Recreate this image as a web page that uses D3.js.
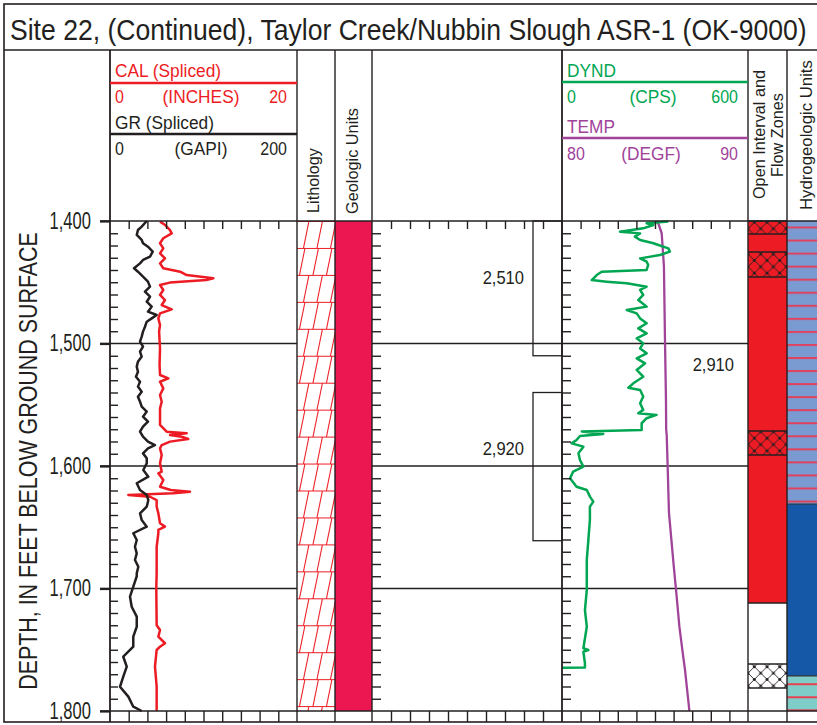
<!DOCTYPE html>
<html><head><meta charset="utf-8">
<script src="https://cdn.jsdelivr.net/npm/d3@7"></script>
<style>
html,body{margin:0;padding:0;background:#fff;}
svg{display:block;}
</style></head>
<body>
<svg id="chart" width="817" height="725"></svg>
<script>
// ---------------- DATA ----------------
const titleText = "Site 22, (Continued), Taylor Creek/Nubbin Slough ASR-1 (OK-9000)";
const yAxisTitle = "DEPTH, IN FEET BELOW GROUND SURFACE";
const depthTicks = [1400, 1500, 1600, 1700, 1800];

const grDepth = [1400,1404.6,1407.3,1411.4,1415.5,1418.2,1421,1425,1429.1,1431.8,1434.6,1438.6,1441.4,1445.4,1449.5,1453.6,1457.7,1461.8,1465.9,1469.9,1474,1476.7,1479.5,1482.2,1486.3,1490.3,1494.4,1498.5,1502.6,1506.7,1510.7,1514.8,1518.9,1523,1527.1,1531.2,1535.2,1539.3,1543.4,1547.5,1551.6,1555.6,1559.7,1563.8,1567.9,1572,1576.1,1580.1,1582.9,1585.6,1589.7,1593.7,1597.8,1603.3,1608.7,1614.1,1619.6,1623.7,1627.8,1633.2,1638.6,1644.1,1649.5,1654.9,1660.4,1665.9,1671.3,1676.7,1682.2,1687.6,1690,1698.5,1706.7,1714.9,1723,1731.2,1739.3,1747.5,1755.7,1763.8,1772,1780.2,1788.3,1796.5,1800];
const grValue = [39.3,33.9,29.9,28.6,33.9,35.3,40.6,45.7,42.8,35.3,32.1,25.7,29.9,35.3,40.6,42.8,37.4,42.8,39.3,44.6,40.6,49.9,44.6,39.3,37.4,35.3,33.9,32.1,35.3,32.1,33.9,29.9,28.6,29.9,27.8,32.1,29.9,33.9,29.9,32.1,33.9,39.3,35.3,40.6,35.3,32.1,35.3,40.6,48.1,40.6,35.3,39.3,39.3,35.6,41,28.6,32.1,39.3,41,39.3,32.1,33.9,39.3,24.9,28.6,26.7,28.6,26.7,30.3,28.6,28.6,24.9,21.4,23.2,28.6,28.6,24.9,24.9,14.2,17.9,14.2,10.7,19.6,24.9,33.9];

const calDepth = [1400.5,1403.3,1407.3,1410.1,1414.1,1418.2,1422.3,1426.4,1430.5,1434.6,1438.6,1441.4,1444.1,1446.8,1448.2,1450.3,1452.2,1456.3,1460.4,1464.5,1468.6,1472.1,1475.4,1479.5,1484.9,1490.3,1503.9,1517.6,1525.7,1528.4,1531.2,1536.6,1542,1547.5,1552.9,1566.5,1572,1573.3,1574.7,1576.1,1578,1580.1,1582.9,1585.6,1591,1597.8,1604.6,1606,1611.4,1616.9,1619.6,1621,1622.3,1623.7,1625.1,1627.8,1633.2,1638.6,1646.8,1649.5,1652.2,1654.9,1665.9,1687.6,1700,1730,1733.9,1739.3,1744.7,1747.5,1750.2,1763.8,1780,1800];
const calValue = [5.35,5.9,6.4,6.6,5.7,5.35,5.7,5.35,5.88,5.35,5.7,7.5,8.2,11.05,10.3,6.4,5.35,5.7,5.35,5.88,5.53,6.6,5.35,5.17,5.35,5.25,5.35,5.3,5.35,6.24,5.35,5.7,5.35,5.53,5.35,5.35,6.06,8.2,6.42,7.67,8.37,6.42,5.53,5.35,5.53,5.35,5.53,5.17,5.7,5.35,6.5,8.56,6.77,1.96,4.28,4.99,4.99,5.17,5.35,5.88,5.17,5.17,4.99,4.99,4.95,4.99,5.35,5.17,5.88,5.35,4.99,4.81,4.99,4.99];

const dyndDepth = [1400.5,1401.9,1403.3,1406,1408.7,1410.1,1412.8,1415.5,1418.2,1419.6,1422.3,1425,1427.8,1430.5,1433.2,1435.9,1440,1441.4,1444.1,1448.2,1449.5,1450.9,1453.6,1456.3,1460.4,1464.5,1469.9,1472.7,1475.4,1479.5,1483.5,1487.6,1491.7,1495.8,1499.9,1504,1508,1512.1,1516.2,1521.6,1527.1,1532.5,1536.1,1537.9,1543.3,1548.8,1554.2,1557,1558.3,1561,1565.1,1570.6,1571.9,1573.8,1575.5,1578.8,1581.5,1584.2,1589.6,1595.1,1600.5,1604.6,1610,1616.9,1619.6,1625,1629.1,1633.2,1644.1,1660.4,1676.7,1690.3,1701.2,1717.6,1731.2,1748.8,1750.2,1751.6,1761.1,1764.4,1764.6];
const dyndValue = [343,273,295,262,187,252,235,252,295,311,343,348,316,252,273,278,273,128,112,96,144,209,273,252,262,246,273,209,241,252,273,246,273,241,262,252,273,241,268,241,262,230,214,252,262,252,262,246,305,273,257,257,64,133,58,47,31,69,53,58,69,36,26,47,80,90,101,90,90,85,80,80,80,74,80,69,85,69,74,74,0];

const tempDepth = [1400,1403,1410,1437,1500,1546,1570,1575,1600,1638,1677,1690,1701,1731,1756,1766,1800];
const tempValue = [85.12,85.2,85.36,85.48,85.54,85.59,85.6,85.63,85.68,85.75,85.98,86.06,86.13,86.31,86.52,86.61,86.85];

// open interval / flow zones
const openIntervalTop = 1400, openIntervalBottom = 1711.8;
const flowZoneTops    = [1400, 1425.3, 1571.4, 1761.6];
const flowZoneBottoms = [1410.6, 1445.7, 1591, 1781.2];
const flowZoneInOpen  = [true, true, true, false];

// hydrogeologic units
const hydroTops    = [1400, 1631, 1771.4];
const hydroBottoms = [1631, 1771.4, 1800];
const hydroKinds   = ["lightblue", "darkblue", "teal"];

// casing brackets and annotations
const bracketTops    = [1400, 1540];
const bracketBottoms = [1510, 1661];
const annoLabels = ["2,510", "2,920", "2,910"];
const annoDepths = [1445.5, 1585.3, 1516.7];
const annoTrack  = ["depth", "depth", "dynd"];

// ---------------- DRAW ----------------
const FONT = "'Liberation Sans','Arial',sans-serif";
const SX = 0.93;   // condensing for words
const SXD = 0.86;  // condensing for numbers
const INK = "#231F20";
const RED = "#ED1C24", GREEN = "#00A651", PURPLE = "#A0449A";

const svg = d3.select("#chart");
const defs = svg.append("defs");

const L = {gr0:110, gr1:297, li1:335, ge1:372, dp1:562, dy1:748, oi1:787, right:826, top:221, bot:711};

const y = d3.scaleLinear().domain([1400,1800]).range([L.top, L.bot]);
const grX = d3.scaleLinear().domain([0,200]).range([L.gr0, L.gr1]);
const calX = d3.scaleLinear().domain([0,20]).range([L.gr0, L.gr1]);
const depthX = d3.scaleLinear().domain([0,10]).range([L.ge1, L.dp1]);
const dyndX = d3.scaleLinear().domain([0,600]).range([L.dp1, L.dy1]);
const tempX = d3.scaleLinear().domain([80,90]).range([L.dp1, L.dy1]);

function ctext(x, yy, s, o){
  o = o || {};
  const g = svg.append("g");
  const t = g.append("text").attr("x",0).attr("y",0)
    .attr("text-anchor", o.anchor || "start")
    .attr("font-family", FONT).attr("font-size", o.size || 18.6)
    .attr("fill", o.color || INK).text(s);
  if (o.dy) t.attr("dy", o.dy);
  let sx = o.sx || (/^[0-9,]+$/.test(s) ? SXD : SX);
  if (o.fit) { const w = t.node().getComputedTextLength(); sx = o.fit / w; }
  g.attr("transform", `translate(${x},${yy})` + (o.rot ? ` rotate(${o.rot})` : "") + ` scale(${sx},1)`);
  return t;
}

// patterns
const lith = defs.append("pattern").attr("id","lith").attr("patternUnits","userSpaceOnUse")
  .attr("x",L.gr1).attr("y",L.top).attr("width",L.li1-L.gr1).attr("height",26.95*2);
lith.append("rect").attr("width",60).attr("height",60).attr("fill","#fff");
[0, 26.95].forEach((oy,i)=>{
  lith.append("line").attr("x1",0).attr("x2",40).attr("y1",oy+0.5).attr("y2",oy+0.5).attr("stroke",RED).attr("stroke-width",1.1);
  const xs = i===0 ? [6.5,20,33.5] : [2.5,16,29.5];
  xs.forEach(bx=>{
    lith.append("line").attr("x1",bx).attr("y1",oy+26.95).attr("x2",bx+5.5).attr("y2",oy).attr("stroke",RED).attr("stroke-width",1.1);
  });
});

function xhatch(id,bg){
  const p = defs.append("pattern").attr("id",id).attr("patternUnits","userSpaceOnUse")
    .attr("x",L.dy1).attr("y",0).attr("width",12.7).attr("height",12.7);
  p.append("rect").attr("width",12.7).attr("height",12.7).attr("fill",bg);
  p.append("path").attr("d","M0,0L12.7,12.7M0,12.7L12.7,0").attr("stroke",INK).attr("stroke-width",0.9);
  [[0,0],[12.7,0],[0,12.7],[12.7,12.7],[6.35,6.35]].forEach(([cx,cy])=>p.append("circle").attr("cx",cx).attr("cy",cy).attr("r",1.5).attr("fill",INK));
}
xhatch("xhRed",RED); xhatch("xhWhite","#fff");

function stripes(id,bg,line){
  const p = defs.append("pattern").attr("id",id).attr("patternUnits","userSpaceOnUse")
    .attr("x",0).attr("y",L.top+5.5).attr("width",40).attr("height",13.05);
  p.append("rect").attr("width",40).attr("height",13.05).attr("fill",bg);
  p.append("rect").attr("y",0).attr("width",40).attr("height",2).attr("fill",line);
}
stripes("hLight","#7A9BD2","#E0415C");
stripes("hTeal","#7ECDC9","#E8414F");

// frame & title
svg.append("rect").attr("x",4).attr("y",4).attr("width",830).attr("height",718)
  .attr("fill","none").attr("stroke",INK).attr("stroke-width",1.6);
svg.append("line").attr("x1",4).attr("x2",830).attr("y1",50).attr("y2",50).attr("stroke",INK).attr("stroke-width",1.6);
ctext(10, 39.5, titleText, {size:29, fit:797});

// column fills
svg.append("rect").attr("x",L.gr1).attr("y",L.top).attr("width",L.li1-L.gr1).attr("height",L.bot-L.top).attr("fill","url(#lith)");
svg.append("rect").attr("x",L.li1).attr("y",L.top).attr("width",L.ge1-L.li1).attr("height",L.bot-L.top).attr("fill","#EC1750");

// open interval
svg.append("rect").attr("x",L.dy1).attr("y",y(openIntervalTop)).attr("width",L.oi1-L.dy1)
  .attr("height",y(openIntervalBottom)-y(openIntervalTop)).attr("fill",RED);
flowZoneTops.forEach((t,i)=>{
  const b = flowZoneBottoms[i];
  svg.append("rect").attr("x",L.dy1).attr("y",y(t)).attr("width",L.oi1-L.dy1).attr("height",y(b)-y(t))
    .attr("fill", flowZoneInOpen[i] ? "url(#xhRed)" : "url(#xhWhite)");
});
[...flowZoneTops, ...flowZoneBottoms, openIntervalBottom].forEach(d=>{
  svg.append("line").attr("x1",L.dy1).attr("x2",L.oi1).attr("y1",y(d)).attr("y2",y(d)).attr("stroke",INK).attr("stroke-width",1.4);
});

// hydro units
const hydroFill = {lightblue:"url(#hLight)", darkblue:"#1558A7", teal:"url(#hTeal)"};
hydroTops.forEach((t,i)=>{
  svg.append("rect").attr("x",L.oi1).attr("y",y(t)).attr("width",L.right-L.oi1).attr("height",y(hydroBottoms[i])-y(t))
    .attr("fill",hydroFill[hydroKinds[i]]);
  if(i>0) svg.append("line").attr("x1",L.oi1).attr("x2",L.right).attr("y1",y(t)).attr("y2",y(t)).attr("stroke","#333").attr("stroke-width",1.2);
});

// gridlines
[1500,1600,1700].forEach(d=>{
  svg.append("line").attr("x1",100).attr("x2",L.gr1).attr("y1",y(d)).attr("y2",y(d)).attr("stroke",INK).attr("stroke-width",1.3);
  svg.append("line").attr("x1",L.ge1).attr("x2",L.dy1).attr("y1",y(d)).attr("y2",y(d)).attr("stroke",INK).attr("stroke-width",1.3);
});

// brackets
bracketTops.forEach((t,i)=>{
  svg.append("rect").attr("x",533).attr("y",y(t)).attr("width",L.dp1-533).attr("height",y(bracketBottoms[i])-y(t))
    .attr("fill","none").attr("stroke",INK).attr("stroke-width",1.3);
});
annoLabels.forEach((s,i)=>{
  ctext(annoTrack[i]==="depth" ? 524 : 734, y(annoDepths[i]), s, {anchor:"end", size:18.8, dy:"0.36em", sx:0.88});
});

// curves
function curve(depths, values, xs, color, w){
  const data = depths.map((d,i)=>({d, v:values[i]}));
  svg.append("path").datum(data).attr("fill","none").attr("stroke",color).attr("stroke-width",w)
    .attr("stroke-linejoin","round").attr("d", d3.line().x(p=>xs(p.v)).y(p=>y(p.d)));
}
curve(calDepth, calValue, calX, RED, 2.5);
curve(grDepth, grValue, grX, INK, 2.5);
curve(tempDepth, tempValue, tempX, PURPLE, 2.3);
curve(dyndDepth, dyndValue, dyndX, GREEN, 2.5);

// column vertical lines
[L.gr1, L.li1, L.ge1, L.dy1, L.oi1].forEach(x=>{
  svg.append("line").attr("x1",x).attr("x2",x).attr("y1",50).attr("y2",722).attr("stroke",INK).attr("stroke-width",1.4);
});
[L.gr0, L.dp1].forEach(x=>{
  svg.append("line").attr("x1",x).attr("x2",x).attr("y1",50).attr("y2",722).attr("stroke",INK).attr("stroke-width",1.8);
});
svg.append("line").attr("x1",100).attr("x2",L.right).attr("y1",L.top).attr("y2",L.top).attr("stroke",INK).attr("stroke-width",1.6);
svg.append("line").attr("x1",100).attr("x2",L.right).attr("y1",L.bot).attr("y2",L.bot).attr("stroke",INK).attr("stroke-width",1.6);

// axes
function styleAxis(g){
  g.select(".domain").remove();
  g.selectAll(".tick line").attr("stroke",INK).attr("stroke-width",1.4);
}
const leftAxis = svg.append("g").attr("transform",`translate(${L.gr0},0)`)
  .call(d3.axisLeft(y).tickValues(depthTicks).tickSize(10).tickPadding(9).tickFormat(d3.format(",")));
styleAxis(leftAxis);
leftAxis.selectAll(".tick line").attr("stroke-width",2.2);
leftAxis.selectAll("text").attr("font-family",FONT).attr("font-size",23).attr("fill",INK)
  .attr("x",0).attr("transform",`translate(-19,0) scale(0.72,1)`);

const minorVals = d3.range(1410,1800,10).filter(d=>d%100!==0);
[L.gr0, L.ge1, L.dp1].forEach(x=>{
  const g = svg.append("g").attr("transform",`translate(${x},0)`)
    .call(d3.axisRight(y).tickValues(minorVals).tickSize(x===L.gr0?8:9).tickFormat(""));
  styleAxis(g);
});
[[grX,[20,40,60,80,100,120,140,160,180]],[depthX,d3.range(1,10)],[dyndX,[60,120,180,240,300,360,420,480,540]]].forEach(([sc,vals])=>{
  const gt = svg.append("g").attr("transform",`translate(0,${L.top})`)
    .call(d3.axisBottom(sc).tickValues(vals).tickSize(8).tickFormat(""));
  styleAxis(gt);
  const gb = svg.append("g").attr("transform",`translate(0,${L.bot})`)
    .call(d3.axisBottom(sc).tickValues(vals).tickSize(11).tickFormat(""));
  styleAxis(gb);
});

// y title
ctext(37, 461, yAxisTitle, {size:25, rot:-90, anchor:"middle", fit:458});

// headers
ctext(115,77,"CAL (Spliced)",{color:RED});
svg.append("line").attr("x1",L.gr0).attr("x2",L.gr1).attr("y1",83).attr("y2",83).attr("stroke",RED).attr("stroke-width",2.4);
ctext(115,103,"0",{color:RED}); ctext(201,103,"(INCHES)",{color:RED,anchor:"middle"}); ctext(287,103,"20",{color:RED,anchor:"end"});
ctext(115,129,"GR (Spliced)",{});
svg.append("line").attr("x1",L.gr0).attr("x2",L.gr1).attr("y1",134).attr("y2",134).attr("stroke",INK).attr("stroke-width",2.4);
ctext(115,155,"0",{}); ctext(201,155,"(GAPI)",{anchor:"middle"}); ctext(287,155,"200",{anchor:"end"});

ctext(567,77,"DYND",{color:GREEN});
svg.append("line").attr("x1",L.dp1).attr("x2",L.dy1).attr("y1",82).attr("y2",82).attr("stroke",GREEN).attr("stroke-width",2.4);
ctext(567,103,"0",{color:GREEN}); ctext(653,103,"(CPS)",{color:GREEN,anchor:"middle"}); ctext(738,103,"600",{color:GREEN,anchor:"end"});
ctext(567,133,"TEMP",{color:PURPLE});
svg.append("line").attr("x1",L.dp1).attr("x2",L.dy1).attr("y1",138).attr("y2",138).attr("stroke",PURPLE).attr("stroke-width",2.4);
ctext(567,160,"80",{color:PURPLE}); ctext(651,160,"(DEGF)",{color:PURPLE,anchor:"middle"}); ctext(738,160,"90",{color:PURPLE,anchor:"end"});

ctext(319,213,"Lithology",{size:16, rot:-90, fit:65});
ctext(358,214,"Geologic Units",{size:16, rot:-90, fit:106});
ctext(765,199,"Open Interval and",{size:16, rot:-90, fit:129});
ctext(783,135,"Flow Zones",{size:16, rot:-90, anchor:"middle", fit:84});
ctext(811.5,210,"Hydrogeologic Units",{size:16, rot:-90, fit:150});
</script>
</body></html>
